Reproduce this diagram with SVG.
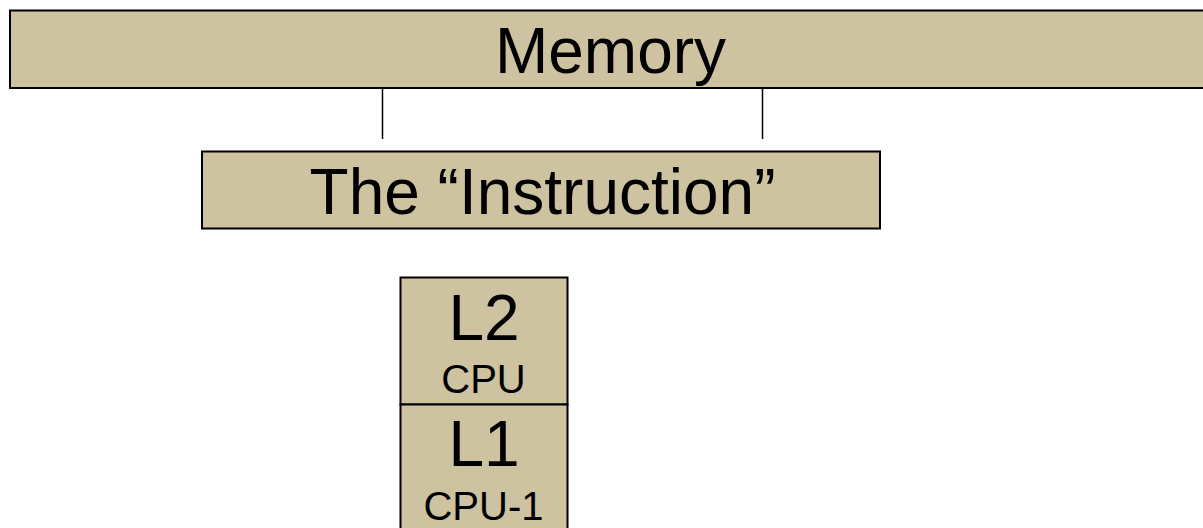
<svg xmlns="http://www.w3.org/2000/svg" width="1203" height="528" viewBox="0 0 1203 528">
  <style>
    .box { fill: #cdc3a0; stroke: #000; stroke-width: 2; }
    .link { stroke: #000; stroke-width: 1.5; fill: none; }
    .big { font-family: "Liberation Sans", Arial, sans-serif; font-size: 64px; fill: #000; text-anchor: middle; }
    .small { font-family: "Liberation Sans", Arial, sans-serif; font-size: 40px; fill: #000; text-anchor: middle; }
  </style>
  <rect width="1203" height="528" fill="#fff"/>
  <g id="connectors">
    <line class="link" x1="382.5" y1="88" x2="382.5" y2="139"/>
    <line class="link" x1="762.5" y1="88" x2="762.5" y2="139"/>
  </g>
  <g id="memory">
    <rect class="box" x="10" y="10.5" width="1200" height="77.5"/>
    <text class="big" x="610.5" y="73">Memory</text>
  </g>
  <g id="instruction">
    <rect class="box" x="202" y="151.5" width="678" height="77" stroke-width="1.5"/>
    <text class="big" x="542.5" y="214">The “Instruction”</text>
  </g>
  <g id="l2">
    <rect class="box" x="400.5" y="277.5" width="167" height="127" stroke-width="1.5"/>
    <text class="big" x="484" y="340">L2</text>
    <text class="small" x="483.5" y="393">CPU</text>
  </g>
  <g id="l1">
    <rect class="box" x="400.5" y="404.5" width="167" height="140" stroke-width="1.5"/>
    <text class="big" x="484" y="466">L1</text>
    <text class="small" x="483.5" y="520">CPU-1</text>
  </g>
</svg>
